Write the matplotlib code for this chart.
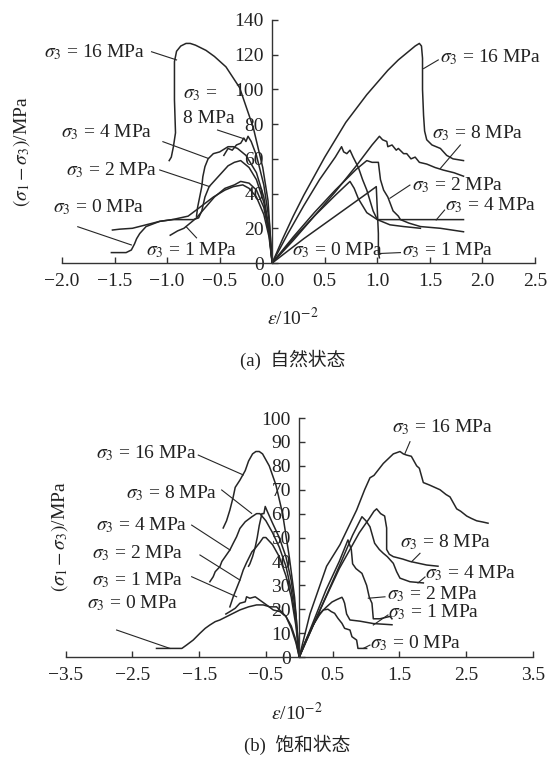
import matplotlib
matplotlib.use('Agg')
import matplotlib.pyplot as plt

plt.rcParams['font.family'] = ['Liberation Serif', 'Noto Sans CJK SC']
plt.rcParams['mathtext.fontset'] = 'stix'
FS = 14
LC = '#262626'

# ---------------- (a) natural state ----------------
# axial (right) side
a16_x = [0, 0.1, 0.2, 0.3, 0.4, 0.5, 0.6, 0.7, 0.8, 0.9, 1.0, 1.1, 1.2, 1.3, 1.36, 1.40, 1.42, 1.43, 1.43, 1.44, 1.45, 1.47, 1.52, 1.60, 1.66, 1.72, 1.82]
a16_y = [0, 14, 27, 39, 50, 61, 71, 81, 89, 97, 104, 111, 117, 122, 125, 126.5, 125, 118, 100, 85, 76, 71, 68, 66, 62, 60, 59]
a8_x = [0, 0.2, 0.4, 0.6, 0.8, 0.95, 1.02, 1.05, 1.09, 1.10, 1.14, 1.18, 1.20, 1.25, 1.28, 1.32, 1.36, 1.40, 1.47, 1.55, 1.63, 1.73, 1.82]
a8_y = [0, 13, 27, 41, 56, 68, 73, 71, 70, 67, 68, 65, 66, 63, 63, 60, 61, 58, 57, 55, 53.5, 52, 50]
a4_x = [0, 0.15, 0.3, 0.45, 0.6, 0.66, 0.68, 0.71, 0.74, 0.77, 0.82, 0.86, 0.90, 0.93, 0.96, 1.0, 1.82]
a4_y = [0, 17, 33, 48, 61, 67, 64, 63, 65, 61, 55, 48, 42, 36, 30, 25, 25]
a2_x = [0, 0.2, 0.4, 0.6, 0.8, 0.9, 0.95, 1.01, 1.03, 1.06, 1.1, 1.15, 1.2, 1.22, 1.30, 1.41, 1.6, 1.82]
a2_y = [0, 15, 29, 42, 54, 59, 58, 58, 48, 42, 38, 30, 27, 25, 23, 21, 20, 18]
a1_x = [0, 0.2, 0.4, 0.6, 0.74, 0.78, 0.82, 0.86, 0.90, 1.0, 1.12, 1.25, 1.41]
a1_y = [0, 14, 27, 39, 47, 43, 37, 33, 29, 25, 22, 21, 20]
a0_x = [0, 0.3, 0.6, 0.9, 0.99, 1.01, 1.01, 1.02]
a0_y = [0, 14, 27, 40, 44, 17, 6, 3]
# lateral (left) side
l16_x = [0, -0.04, -0.09, -0.18, -0.31, -0.44, -0.55, -0.63, -0.73, -0.78, -0.82, -0.87, -0.91, -0.93, -0.93, -0.92, -0.94, -0.96, -0.98]
l16_y = [0, 36, 55, 78, 101, 113, 119, 122.5, 125.5, 126.5, 126.5, 125, 122, 116, 94, 75, 67, 61, 59]
l8_x = [0, -0.03, -0.08, -0.15, -0.20, -0.23, -0.25, -0.27, -0.30, -0.34, -0.38, -0.42, -0.46]
l8_y = [0, 25, 45, 62, 70, 73, 70, 72, 69, 68, 65, 66, 62]
l4_x = [0, -0.03, -0.08, -0.15, -0.25, -0.33, -0.37, -0.42, -0.50, -0.56, -0.61, -0.64, -0.66, -0.67, -0.69, -0.71, -0.72]
l4_y = [0, 20, 38, 52, 62, 66, 67, 67, 64, 63, 60, 55.5, 49.7, 44, 38, 32, 27]
l2_x = [0, -0.03, -0.08, -0.15, -0.22, -0.30, -0.36, -0.42, -0.48, -0.54, -0.60, -0.64, -0.67, -0.70, -0.75, -0.95, -1.07, -1.2, -1.33, -1.45, -1.52]
l2_y = [0, 18, 35, 48, 55, 59, 58, 56, 52, 48, 44, 38, 30, 26, 25, 25, 24, 22, 20, 19.5, 19]
l1_x = [0, -0.03, -0.08, -0.15, -0.22, -0.30, -0.36, -0.45, -0.55, -0.65, -0.72, -0.80, -0.84, -0.90, -0.97]
l1_y = [0, 17, 32, 42, 46, 47, 45, 43, 38, 31, 26, 22, 20, 18.5, 16]
l0_x = [0, -0.03, -0.08, -0.15, -0.22, -0.28, -0.37, -0.45, -0.56, -0.69, -0.80, -0.95, -1.07, -1.2, -1.26, -1.29, -1.31, -1.34, -1.39, -1.53]
l0_y = [0, 15, 28, 38, 43, 45, 44, 42, 38, 32, 27, 25, 24, 21, 17, 14, 11, 7.5, 6, 6]

a_xticks = [-2.0, -1.5, -1.0, -0.5, 0.0, 0.5, 1.0, 1.5, 2.0, 2.5]
a_yticks = [0, 20, 40, 60, 80, 100, 120, 140]

a_labels = [
    (r'$\sigma_3$ = 16 MPa', -1.214, 121.5, 'right'),
    (r'$\sigma_3$ =', -0.852, 96.8, 'left'),
    ('8 MPa', -0.852, 83.5, 'left'),
    (r'$\sigma_3$ = 4 MPa', -1.138, 75.5, 'right'),
    (r'$\sigma_3$ = 2 MPa', -1.09, 53.6, 'right'),
    (r'$\sigma_3$ = 0 MPa', -1.214, 32.3, 'right'),
    (r'$\sigma_3$ = 1 MPa', -0.767, 7.5, 'center'),
    (r'$\sigma_3$ = 16 MPa', 1.595, 118.7, 'left'),
    (r'$\sigma_3$ = 8 MPa', 1.52, 74.9, 'left'),
    (r'$\sigma_3$ = 2 MPa', 1.33, 44.9, 'left'),
    (r'$\sigma_3$ = 4 MPa', 1.64, 33.4, 'left'),
    (r'$\sigma_3$ = 0 MPa', 0.186, 7.5, 'left'),
    (r'$\sigma_3$ = 1 MPa', 1.233, 7.5, 'left'),
]
a_leaders = [
    (-1.148, 121.7, -0.91, 117), (-0.52, 76.6, -0.28, 71.8), (-1.04, 69.9, -0.61, 60.3),
    (-1.07, 53.6, -0.595, 44), (-1.85, 20.9, -1.34, 10.4), (-0.72, 14.5, -0.82, 21),
    (1.58, 117, 1.44, 112), (1.79, 68, 1.60, 54.5), (1.31, 44.9, 1.12, 37.3),
    (1.64, 30.5, 1.56, 24.8), (1.22, 6.0, 1.03, 5.5),
]

# ---------------- (b) saturated state ----------------
b16_x = [0, 0.16, 0.41, 0.61, 0.86, 0.98, 1.06, 1.12, 1.26, 1.41, 1.51, 1.56, 1.61, 1.68, 1.76, 1.80, 1.86, 1.95, 2.11, 2.2, 2.26, 2.36, 2.42, 2.51, 2.58, 2.66, 2.75, 2.83]
b16_y = [0, 18, 38, 47, 61.5, 70, 75, 76, 81, 85, 86, 85, 84.5, 84, 80, 79, 73, 72, 70, 68, 67, 62, 61, 59, 58, 57, 56.5, 56]
b8_x = [0, 0.3, 0.6, 0.9, 1.05, 1.12, 1.16, 1.22, 1.28, 1.31, 1.31, 1.35, 1.41, 1.55, 1.66, 1.91, 2.08]
b8_y = [0, 19, 37, 52, 58, 61, 62, 60, 59, 54, 45, 43, 42, 41, 40, 38.5, 38]
b4_x = [0, 0.3, 0.6, 0.8, 0.94, 1.0, 1.06, 1.13, 1.2, 1.26, 1.32, 1.41, 1.46, 1.51, 1.66, 1.86]
b4_y = [0, 19, 38, 51, 58.7, 57, 54.5, 47.6, 45, 43.4, 42, 39.2, 35.7, 33, 31.5, 31]
b2_x = [0, 0.2, 0.4, 0.6, 0.73, 0.78, 0.80, 0.85, 0.94, 1.01, 1.05, 1.09, 1.11, 1.21, 1.36, 1.39]
b2_y = [0, 14, 28, 40, 49, 45, 39, 37, 35, 30, 25, 22.5, 16, 16, 17, 16]
b1_x = [0, 0.1, 0.2, 0.3, 0.41, 0.49, 0.56, 0.64, 0.66, 0.68, 0.71, 0.76, 0.91, 1.11, 1.39]
b1_y = [0, 7, 13, 18, 21, 23, 24, 25, 24, 22.5, 18, 15.5, 15, 14, 13.5]
b0_x = [0, 0.1, 0.2, 0.3, 0.36, 0.43, 0.48, 0.53, 0.58, 0.64, 0.68, 0.76, 0.79, 0.86, 0.88, 1.01]
b0_y = [0, 7, 13, 17.5, 19.7, 20, 19, 18.3, 16.2, 14.1, 12, 11.3, 8.5, 7.1, 3.6, 3.6]
c16_x = [0, -0.07, -0.15, -0.25, -0.35, -0.45, -0.55, -0.60, -0.65, -0.70, -0.76, -0.81, -0.89, -0.96, -0.99, -1.04, -1.09, -1.14]
c16_y = [0, 25, 42, 60, 72, 80, 85, 86, 86, 85, 82, 78, 74, 71, 67, 61.5, 57, 54]
c8_x = [0, -0.05, -0.12, -0.2, -0.3, -0.4, -0.48, -0.51, -0.53, -0.56, -0.6, -0.63, -0.66, -0.70, -0.74, -0.76]
c8_y = [0, 18, 32, 42, 50, 56, 61, 63, 60, 60, 55, 50, 46, 42, 39, 38]
c4_x = [0, -0.05, -0.12, -0.2, -0.3, -0.4, -0.5, -0.59, -0.64, -0.71, -0.81, -0.89, -0.94, -0.99, -1.04, -1.11, -1.16, -1.19, -1.26, -1.29, -1.34]
c4_y = [0, 15, 28, 38, 46, 52, 57, 60, 60, 58.7, 56.6, 53.8, 50.3, 47.6, 44.8, 42, 40, 37.8, 35.7, 33.6, 31.5]
c2_x = [0, -0.05, -0.12, -0.2, -0.3, -0.4, -0.5, -0.54, -0.59, -0.66, -0.71, -0.79, -0.84, -0.89, -0.94, -0.99, -1.04]
c2_y = [0, 13, 25, 34, 42, 47, 50, 50, 48, 45.5, 44, 39.5, 36.4, 32.2, 28.7, 25.2, 21]
c1_x = [0, -0.05, -0.12, -0.2, -0.29, -0.39, -0.49, -0.59, -0.66, -0.74, -0.79, -0.81, -0.89, -0.96, -1.04, -1.1]
c1_y = [0, 7, 13, 17, 19, 19.7, 21.8, 23.8, 25.2, 24.6, 25.2, 23.1, 22.5, 20.4, 19, 18]
c0_x = [0, -0.05, -0.12, -0.2, -0.34, -0.44, -0.54, -0.64, -0.76, -0.89, -0.99, -1.09, -1.19, -1.26, -1.34, -1.41, -1.49, -1.59, -1.69, -1.76, -2.14]
c0_y = [0, 6, 12, 17, 21, 21, 21.8, 21.8, 21, 19.7, 18.3, 16.9, 15.5, 14.8, 13.4, 12, 9.9, 7.1, 5, 3.6, 3.6]

b_xticks = [-3.5, -2.5, -1.5, -0.5, 0.5, 1.5, 2.5, 3.5]
b_yticks = [0, 10, 20, 30, 40, 50, 60, 70, 80, 90, 100]

b_labels = [
    (r'$\sigma_3$ = 16 MPa', -1.534, 85.4, 'right'),
    (r'$\sigma_3$ = 8 MPa', -1.234, 68.6, 'right'),
    (r'$\sigma_3$ = 4 MPa', -1.684, 55.2, 'right'),
    (r'$\sigma_3$ = 2 MPa', -1.744, 43.5, 'right'),
    (r'$\sigma_3$ = 1 MPa', -1.744, 32.2, 'right'),
    (r'$\sigma_3$ = 0 MPa', -1.819, 22.6, 'right'),
    (r'$\sigma_3$ = 16 MPa', 1.39, 96.2, 'left'),
    (r'$\sigma_3$ = 8 MPa', 1.51, 48.1, 'left'),
    (r'$\sigma_3$ = 4 MPa', 1.885, 35.1, 'left'),
    (r'$\sigma_3$ = 2 MPa', 1.315, 26.4, 'left'),
    (r'$\sigma_3$ = 1 MPa', 1.33, 18.6, 'left'),
    (r'$\sigma_3$ = 0 MPa', 1.06, 5.9, 'left'),
]
b_leaders = [
    (-1.514, 84.5, -0.84, 76.2), (-1.163, 69.9, -0.714, 60.1), (-1.613, 55.2, -1.039, 44.8),
    (-1.489, 42.7, -0.889, 32.2), (-1.613, 33.6, -0.939, 25.2), (-2.738, 11.3, -1.939, 3.6),
    (1.66, 90.1, 1.585, 85.2), (1.81, 43.4, 1.685, 39.9), (1.885, 33.5, 1.78, 31.0),
    (1.285, 25.2, 1.035, 24.6), (1.33, 17.6, 1.11, 13.4), (1.06, 5.0, 0.96, 3.6),
]

fig = plt.figure(figsize=(5.5, 7.63), dpi=100)
ax1 = fig.add_axes([0.1127, 0.6553, 0.86, 0.3185])
ax2 = fig.add_axes([0.1196, 0.1389, 0.849, 0.3132])


def style(ax, xlim, ylim, xticks, yticks):
    ax.set_xlim(*xlim)
    ax.set_ylim(*ylim)
    ax.patch.set_alpha(0)
    for s in ('right', 'top'):
        ax.spines[s].set_visible(False)
    ax.spines['left'].set_position(('data', 0))
    for s in ('left', 'bottom'):
        ax.spines[s].set_linewidth(1.0)
        ax.spines[s].set_color('#333333')
    ax.set_xticks(xticks)
    ax.set_xticklabels([f'{v:.1f}'.replace('-', '\u2212') for v in xticks])
    ax.set_yticks(yticks)
    ax.set_yticklabels([str(v) for v in yticks])
    ax.tick_params(direction='in', length=4, width=1.0, labelsize=FS,
                   colors='#333333', labelcolor='#222222')
    ax.tick_params(axis='x', pad=7)
    ax.tick_params(axis='y', pad=6)


def draw(ax, curves, labels, leaders):
    for xs, ys in curves:
        ax.plot(xs, ys, color=LC, lw=1.1, solid_joinstyle='round', clip_on=False)
    for x0, y0, x1, y1 in leaders:
        ax.plot([x0, x1], [y0, y1], color=LC, lw=0.8, clip_on=False)
    for t, x, y, ha in labels:
        ax.text(x, y, t, ha=ha, va='center', fontsize=FS, color='#222222')


style(ax1, (-2.0, 2.5), (0, 140), a_xticks, a_yticks)
draw(ax1, [(a16_x, a16_y), (a8_x, a8_y), (a4_x, a4_y), (a2_x, a2_y), (a1_x, a1_y), (a0_x, a0_y),
           (l16_x, l16_y), (l8_x, l8_y), (l4_x, l4_y), (l2_x, l2_y), (l1_x, l1_y), (l0_x, l0_y)],
     a_labels, a_leaders)

style(ax2, (-3.5, 3.5), (0, 100), b_xticks, b_yticks)
draw(ax2, [(b16_x, b16_y), (b8_x, b8_y), (b4_x, b4_y), (b2_x, b2_y), (b1_x, b1_y), (b0_x, b0_y),
           (c16_x, c16_y), (c8_x, c8_y), (c4_x, c4_y), (c2_x, c2_y), (c1_x, c1_y), (c0_x, c0_y)],
     b_labels, b_leaders)

ylab = r'$(\sigma_1-\sigma_3)$/MPa'
fig.text(22 / 550, 1 - 152 / 763, ylab, rotation=90, ha='center', va='center', fontsize=FS, color='#222222')
fig.text(60 / 550, 1 - 537 / 763, ylab, rotation=90, ha='center', va='center', fontsize=FS, color='#222222')
xlab = r'$\varepsilon$/10$^{-2}$'
fig.text(293 / 550, 1 - 318 / 763, xlab, ha='center', va='center', fontsize=FS, color='#222222')
fig.text(297 / 550, 1 - 713 / 763, xlab, ha='center', va='center', fontsize=FS, color='#222222')
fig.text(293 / 550, 1 - 360 / 763, '(a)  自然状态', ha='center', va='center', fontsize=FS - 0.5, color='#222222')
fig.text(297 / 550, 1 - 745 / 763, '(b)  饱和状态', ha='center', va='center', fontsize=FS - 0.5, color='#222222')

fig.savefig('out.png', dpi=100)
